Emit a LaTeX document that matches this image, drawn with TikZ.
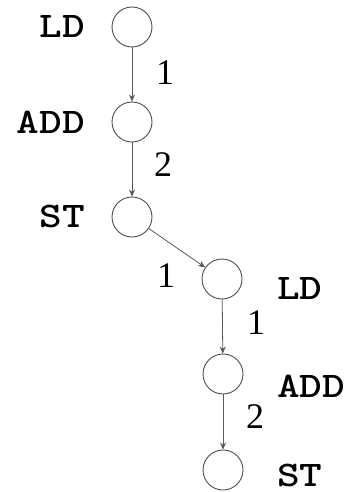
\documentclass[tikz,border=0pt]{standalone}
\usepackage{fontspec}
\setmainfont{Liberation Serif}
\newfontfamily\labfont[Extension=.otf, FakeStretch=1.2]{lmmonolt10-bold}
\usetikzlibrary{arrows.meta}
\begin{document}
\begin{tikzpicture}[x=1pt,y=-1pt,
  vert/.style={circle, draw=black!70, line width=0.9pt, minimum size=40pt, inner sep=0pt},
  oplab/.style={font=\labfont\fontsize{36}{36}\selectfont, inner sep=0pt},
  wlab/.style={font=\fontsize{36}{36}\selectfont, inner sep=0pt},
  edge/.style={draw=black!65, line width=0.8pt, -{Stealth[length=7pt,width=6pt]}}]
\useasboundingbox (0,0) rectangle (352,492);
\node[vert] (a) at (132,27) {};
\node[vert] (b) at (132,122) {};
\node[vert] (c) at (132,217) {};
\node[vert] (d) at (222,279) {};
\node[vert] (e) at (223,374) {};
\node[vert] (f) at (223,470) {};
\node[oplab, anchor=east] (la) at (85,27) {LD};
\node[oplab, anchor=east] (lb) at (85,122) {ADD};
\node[oplab, anchor=east] (lc) at (85,217) {ST};
\node[oplab, anchor=west] (ld) at (277,288) {LD};
\node[oplab, anchor=west] (le) at (277,386) {ADD};
\node[oplab, anchor=west] (lf) at (277,475) {ST};
\draw[edge] (a) -- (b);
\draw[edge] (b) -- (c);
\draw[edge] (c) -- (d);
\draw[edge] (d) -- (e);
\draw[edge] (e) -- (f);
\node[wlab] (w1) at (165,73) {1};
\node[wlab] (w2) at (163,165) {2};
\node[wlab] (w3) at (166,276) {1};
\node[wlab] (w4) at (256,323) {1};
\node[wlab] (w5) at (255,417) {2};
\end{tikzpicture}
\end{document}
